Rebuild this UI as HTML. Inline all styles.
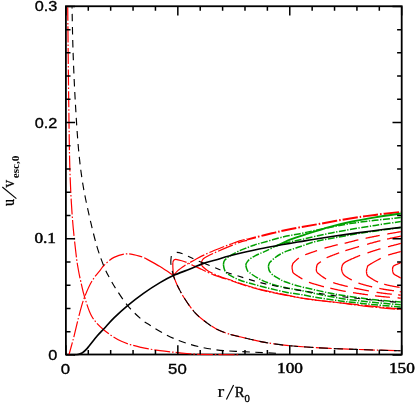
<!DOCTYPE html>
<html><head><meta charset="utf-8"><title>plot</title>
<style>
html,body{margin:0;padding:0;background:#fff;}
body{width:415px;height:407px;overflow:hidden;font-family:"Liberation Sans",sans-serif;}
svg{display:block;will-change:transform;}
</style></head><body>
<svg width="415" height="407" viewBox="0 0 415 407">
<rect x="0" y="0" width="415" height="407" fill="#fff"/>
<defs><clipPath id="c"><rect x="65.00" y="7.15" width="335.80" height="348.25"/></clipPath></defs>
<rect x="65.90" y="6.25" width="335.80" height="348.25" fill="none" stroke="#000" stroke-width="1.8"/>
<g clip-path="url(#c)" stroke-linecap="butt" stroke-linejoin="round">
<path d="M67.70 5.00 C67.87 20.83 68.33 72.50 68.70 100.00 C69.07 127.50 69.30 150.52 69.90 170.00 C70.50 189.48 71.28 202.95 72.30 216.90 C73.32 230.85 74.98 244.85 76.00 253.70 C77.02 262.55 77.58 265.28 78.40 270.00 C79.22 274.72 79.87 277.50 80.90 282.00 C81.93 286.50 82.75 291.22 84.60 297.00 C86.45 302.78 88.73 311.17 92.00 316.70 C95.27 322.23 99.30 326.10 104.20 330.20 C109.10 334.30 115.27 338.43 121.40 341.30 C127.53 344.17 134.57 345.85 141.00 347.40 C147.43 348.95 154.40 349.78 160.00 350.60 C165.60 351.42 170.12 351.82 174.60 352.30 C179.08 352.78 182.82 353.17 186.90 353.50 C190.98 353.83 190.25 354.05 199.10 354.30 C207.95 354.55 233.18 354.88 240.00 355.00" fill="none" stroke="#ff0000" stroke-width="1.2" stroke-dasharray="16 2 1.5 2" stroke-dashoffset="0"/>
<path d="M68.90 355.00 C69.27 353.67 70.25 350.12 71.10 347.00 C71.95 343.88 72.52 342.17 74.00 336.30 C75.48 330.43 78.23 318.35 80.00 311.80 C81.77 305.25 82.60 302.13 84.60 297.00 C86.60 291.87 89.35 285.53 92.00 281.00 C94.65 276.47 98.47 272.43 100.50 269.80 C102.53 267.17 101.95 267.27 104.20 265.20 C106.45 263.13 110.10 259.30 114.00 257.40 C117.90 255.50 122.90 253.88 127.60 253.80 C132.30 253.72 139.77 256.38 142.20 256.90" fill="none" stroke="#ff0000" stroke-width="1.2" stroke-dasharray="16 2 1.5 2" stroke-dashoffset="2.83"/>
<path d="M144.20 257.70 C146.83 259.18 155.13 263.63 160.00 266.60 C164.87 269.57 171.17 274.02 173.40 275.50" fill="none" stroke="#ff0000" stroke-width="1.2"/>
<path d="M173.40 275.50 C174.00 277.03 175.17 280.90 177.00 284.70 C178.83 288.50 181.53 293.78 184.40 298.30 C187.27 302.82 190.92 308.05 194.20 311.80 C197.48 315.55 200.42 317.93 204.10 320.80 C207.78 323.67 212.22 326.82 216.30 329.00 C220.38 331.18 224.50 332.57 228.60 333.90 C232.70 335.23 235.32 335.67 240.90 337.00 C246.48 338.33 254.88 340.53 262.10 341.90 C269.32 343.27 276.83 344.35 284.20 345.20 C291.57 346.05 298.67 346.47 306.30 347.00 C313.93 347.53 320.35 347.95 330.00 348.40 C339.65 348.85 352.37 349.30 364.20 349.70 C376.03 350.10 394.87 350.62 401.00 350.80" fill="none" stroke="#ff0000" stroke-width="1.2" stroke-dasharray="16 2 1.5 2" stroke-dashoffset="0"/>
<path d="M172.80 262.50 C172.97 262.12 173.30 260.73 173.80 260.20 C174.30 259.67 174.48 259.22 175.80 259.30 C177.12 259.38 179.57 260.05 181.70 260.70 C183.83 261.35 186.47 262.30 188.60 263.20 C190.73 264.10 192.37 265.08 194.50 266.10 C196.63 267.12 199.65 268.48 201.40 269.30 C203.15 270.12 202.97 270.07 205.00 271.00 C207.03 271.93 210.87 273.80 213.60 274.90 C216.33 276.00 218.67 276.72 221.40 277.60 C224.13 278.48 226.90 279.17 230.00 280.20 C233.10 281.23 235.15 282.25 240.00 283.80 C244.85 285.35 251.82 287.67 259.10 289.50 C266.38 291.33 275.83 293.22 283.70 294.80 C291.57 296.38 300.25 298.02 306.30 299.00 C312.35 299.98 314.03 300.00 320.00 300.70 C325.97 301.40 334.73 302.30 342.10 303.20 C349.47 304.10 356.83 305.25 364.20 306.10 C371.57 306.95 380.17 307.73 386.30 308.30 C392.43 308.87 398.55 309.30 401.00 309.50" fill="none" stroke="#ff0000" stroke-width="1.2" stroke-dasharray="16 2 1.5 2" stroke-dashoffset="0"/>
<path d="M172.80 262.50 C172.82 263.42 172.80 265.83 172.90 268.00 C173.00 270.17 173.32 274.25 173.40 275.50" fill="none" stroke="#ff0000" stroke-width="1.2"/>
<path d="M173.40 275.50 C174.13 274.68 175.92 272.25 177.80 270.60 C179.68 268.95 182.73 266.92 184.70 265.60 C186.67 264.28 187.73 263.77 189.60 262.70 C191.47 261.63 193.38 260.53 195.90 259.20 C198.42 257.87 201.58 256.18 204.70 254.70 C207.82 253.22 211.65 251.55 214.60 250.30 C217.55 249.05 219.83 248.18 222.40 247.20 C224.97 246.22 227.15 245.45 230.00 244.40 C232.85 243.35 236.67 241.82 239.50 240.90 C242.33 239.98 245.75 239.23 247.00 238.90" fill="none" stroke="#ff0000" stroke-width="1.2" stroke-dasharray="16 2 1.5 2" stroke-dashoffset="0"/>
<path d="M201.30 263.10 C201.47 262.62 201.73 261.10 202.30 260.20 C202.87 259.30 202.82 258.87 204.70 257.70 C206.58 256.53 210.27 254.75 213.60 253.20 C216.93 251.65 220.38 250.20 224.70 248.40 C229.02 246.60 235.78 243.75 239.50 242.40 C243.22 241.05 245.75 240.65 247.00 240.30" fill="none" stroke="#ff0000" stroke-width="1.2" stroke-dasharray="16 2 1.5 2" stroke-dashoffset="0"/>
<path d="M247.00 239.60 C248.20 239.28 251.20 238.47 254.20 237.70 C257.20 236.93 261.53 235.85 265.00 235.00 C268.47 234.15 271.67 233.38 275.00 232.60 C278.33 231.82 280.83 231.18 285.00 230.30 C289.17 229.42 294.17 228.38 300.00 227.30 C305.83 226.22 311.67 225.28 320.00 223.80 C328.33 222.32 340.83 219.88 350.00 218.40 C359.17 216.92 366.50 215.98 375.00 214.90 C383.50 213.82 396.67 212.40 401.00 211.90" fill="none" stroke="#ff0000" stroke-width="2.0" stroke-dasharray="15.2 2 1.5 2" stroke-dashoffset="5.8"/>
<path d="M201.30 263.10 C201.37 263.42 201.45 264.38 201.70 265.00 C201.95 265.62 201.80 265.85 202.80 266.80 C203.80 267.75 205.90 269.53 207.70 270.70 C209.50 271.87 211.32 272.75 213.60 273.80 C215.88 274.85 218.67 276.00 221.40 277.00 C224.13 278.00 226.90 278.73 230.00 279.80 C233.10 280.87 235.15 281.85 240.00 283.40 C244.85 284.95 251.82 287.27 259.10 289.10 C266.38 290.93 275.83 292.80 283.70 294.40 C291.57 296.00 296.57 297.27 306.30 298.70 C316.03 300.13 326.32 301.25 342.10 303.00 C357.88 304.75 391.18 308.17 401.00 309.20" fill="none" stroke="#ff0000" stroke-width="1.2" stroke-dasharray="16 2 1.5 2" stroke-dashoffset="0"/>
<path d="M292.00 267.20 L292.01 267.15 L292.02 267.09 L292.03 267.03 L292.05 266.96 L292.06 266.88 L292.07 266.80 L292.09 266.72 L292.10 266.63 L292.12 266.54 L292.13 266.44 L292.15 266.34 L292.17 266.24 L292.19 266.13 L292.21 266.03 L292.23 265.92 L292.25 265.81 L292.27 265.70 L292.29 265.59 L292.31 265.48 L292.33 265.37 L292.36 265.26 L292.38 265.16 L292.41 265.05 L292.43 264.95 L292.46 264.85 L292.49 264.75 L292.51 264.66 L292.54 264.57 L292.57 264.48 L292.60 264.40 L292.63 264.32 L292.65 264.25 L292.68 264.19 L292.70 264.12 L292.72 264.06 L292.74 264.01 L292.76 263.95 L292.77 263.90 L292.79 263.85 L292.81 263.80 L292.83 263.75 L292.84 263.70 L292.87 263.66 L292.89 263.61 L292.91 263.56 L292.94 263.51 L292.97 263.46 L293.00 263.41 L293.04 263.36 L293.08 263.30 L293.13 263.24 L293.18 263.18 L293.23 263.11 L293.29 263.04 L293.36 262.96 L293.44 262.88 L293.52 262.80 L293.60 262.70 L293.70 262.60 L293.80 262.50 L293.91 262.39 L294.03 262.27 L294.15 262.14 L294.29 262.01 L294.43 261.87 L294.57 261.73 L294.72 261.58 L294.88 261.43 L295.04 261.27 L295.21 261.11 L295.38 260.94 L295.56 260.78 L295.74 260.61 L295.92 260.44 L296.11 260.27 L296.29 260.10 L296.49 259.93 L296.68 259.75 L296.87 259.58 L297.07 259.41 L297.26 259.25 L297.46 259.08 L297.66 258.92 L297.85 258.76 L298.05 258.61 L298.24 258.45 L298.43 258.31 L298.62 258.17 L298.81 258.03 M305.22 254.77 L305.55 254.64 L305.91 254.51 L306.28 254.37 L306.67 254.22 L307.07 254.07 L307.49 253.92 L307.91 253.77 L308.35 253.61 L308.79 253.46 L309.24 253.30 L309.70 253.14 L310.17 252.97 L310.63 252.81 L311.10 252.65 L311.57 252.49 L312.04 252.33 L312.50 252.17 L312.96 252.01 L313.42 251.86 L313.87 251.70 L314.31 251.55 L314.74 251.41 L315.17 251.26 L315.58 251.12 L315.97 250.99 L316.36 250.86 L316.72 250.73 L317.07 250.61 M324.46 248.20 L324.84 248.09 L325.24 247.98 L325.66 247.86 L326.09 247.74 L326.55 247.62 L327.01 247.49 L327.50 247.36 L327.99 247.23 L328.49 247.09 L329.00 246.96 L329.52 246.82 L330.04 246.68 L330.56 246.54 L331.09 246.40 L331.61 246.26 L332.14 246.12 L332.66 245.99 L333.18 245.85 L333.69 245.72 L334.19 245.59 L334.69 245.46 L335.17 245.34 L335.64 245.22 L336.09 245.10 L336.53 244.99 L336.95 244.88 L337.36 244.78 L337.74 244.69 M344.66 243.28 L345.00 243.20 L345.35 243.12 L345.71 243.03 L346.08 242.94 L346.45 242.85 L346.84 242.75 L347.23 242.65 L347.63 242.55 L348.03 242.44 L348.45 242.33 L348.87 242.22 L349.30 242.11 L349.73 241.99 L350.18 241.88 L350.63 241.76 L351.09 241.64 L351.56 241.52 L352.04 241.39 L352.53 241.27 L353.02 241.14 L353.52 241.01 L354.03 240.88 L354.55 240.75 L355.08 240.62 L355.61 240.49 L356.16 240.36 L356.71 240.23 L357.27 240.10 L357.84 239.96 L358.41 239.83 M365.61 238.27 L366.34 238.12 L367.07 237.97 L367.80 237.82 L368.54 237.67 L369.29 237.51 L370.04 237.36 L370.79 237.21 L371.54 237.05 L372.30 236.90 L373.05 236.75 L373.81 236.60 L374.56 236.45 L375.31 236.30 L376.05 236.15 L376.79 236.00 L377.53 235.86 L378.26 235.72 L378.98 235.57 L379.70 235.44 M387.29 234.02 L388.09 233.88 L388.89 233.73 L389.69 233.59 L390.48 233.45 L391.26 233.31 L392.04 233.18 L392.80 233.04 L393.55 232.91 L394.28 232.78 L395.00 232.65 L395.69 232.53 L396.36 232.42 L397.00 232.30 L397.62 232.19 L398.21 232.09 L398.77 231.99 L399.29 231.90 L399.78 231.82 L400.23 231.74 L400.63 231.67 L401.00 231.60" fill="none" stroke="#ff0000" stroke-width="1.3"/>
<path d="M292.00 267.20 L292.01 267.25 L292.02 267.31 L292.03 267.38 L292.04 267.45 L292.05 267.53 L292.06 267.61 L292.07 267.69 L292.08 267.78 L292.09 267.88 L292.10 267.97 L292.11 268.08 L292.13 268.18 L292.14 268.29 L292.15 268.40 L292.17 268.51 L292.18 268.62 L292.20 268.73 L292.22 268.85 L292.24 268.96 L292.26 269.08 L292.28 269.20 L292.30 269.31 L292.32 269.43 L292.34 269.55 L292.36 269.66 L292.39 269.77 L292.42 269.88 L292.44 269.99 L292.47 270.10 L292.50 270.20 L292.53 270.30 L292.55 270.40 L292.56 270.49 L292.57 270.59 L292.58 270.68 L292.59 270.77 L292.59 270.86 L292.59 270.95 L292.59 271.03 L292.59 271.12 L292.59 271.21 L292.60 271.30 L292.60 271.39 L292.61 271.48 L292.63 271.57 L292.64 271.66 L292.67 271.76 L292.69 271.85 L292.73 271.95 L292.77 272.06 L292.83 272.16 L292.89 272.27 L292.96 272.38 L293.04 272.50 L293.13 272.62 L293.24 272.75 L293.36 272.88 L293.49 273.01 L293.64 273.15 L293.80 273.30 L293.98 273.45 L294.18 273.62 L294.40 273.79 L294.63 273.97 L294.88 274.15 L295.14 274.35 L295.42 274.55 L295.71 274.75 L296.01 274.96 L296.31 275.17 L296.63 275.38 L296.96 275.60 L297.29 275.82 L297.62 276.04 L297.96 276.26 L298.30 276.48 L298.65 276.70 L298.99 276.91 L299.33 277.13 L299.67 277.34 L300.01 277.55 L300.34 277.76 L300.67 277.96 L300.99 278.16 L301.30 278.35 L301.61 278.54 L301.90 278.71 L302.18 278.89 L302.45 279.05 M308.96 282.33 L309.34 282.46 L309.75 282.60 L310.18 282.74 L310.63 282.89 L311.10 283.04 L311.59 283.19 L312.10 283.35 L312.62 283.51 L313.14 283.67 L313.68 283.83 L314.23 284.00 L314.78 284.16 L315.34 284.33 L315.90 284.49 L316.46 284.66 L317.02 284.82 L317.57 284.98 L318.12 285.14 L318.67 285.30 L319.20 285.45 L319.72 285.60 L320.23 285.74 L320.73 285.88 L321.21 286.02 L321.67 286.15 L322.11 286.27 L322.53 286.39 L322.93 286.50 L323.30 286.60 L323.64 286.69 L323.96 286.78 M330.36 288.18 L330.73 288.26 L331.10 288.35 L331.47 288.43 L331.85 288.52 L332.23 288.61 L332.62 288.70 L333.01 288.80 L333.42 288.89 L333.83 288.99 L334.25 289.09 L334.68 289.20 L335.12 289.30 L335.58 289.41 L336.04 289.51 L336.52 289.62 L337.01 289.73 L337.52 289.84 L338.04 289.96 L338.58 290.07 L339.14 290.19 L339.71 290.31 L340.30 290.43 L340.91 290.55 L341.54 290.67 L342.18 290.80 L342.86 290.92 L343.55 291.05 L344.26 291.17 L345.00 291.30 L345.77 291.43 M353.02 292.62 L354.04 292.78 L355.07 292.94 L356.11 293.11 L357.17 293.27 L358.24 293.44 L359.31 293.60 L360.39 293.76 L361.48 293.93 L362.57 294.09 L363.66 294.25 L364.74 294.41 L365.82 294.56 L366.90 294.72 L367.96 294.87 M375.00 295.80 L375.94 295.91 L376.90 296.03 L377.88 296.14 L378.87 296.24 L379.87 296.35 L380.87 296.45 L381.88 296.55 L382.90 296.65 L383.91 296.75 L384.93 296.84 L385.93 296.94 L386.94 297.03 L387.93 297.11 L388.91 297.20 L389.88 297.28 M397.53 297.91 L398.22 297.96 L398.87 298.02 L399.47 298.07 L400.03 298.11 L400.54 298.16 L401.00 298.20" fill="none" stroke="#ff0000" stroke-width="1.3"/>
<path d="M316.40 268.20 L316.42 268.13 L316.43 268.06 L316.45 267.98 L316.46 267.89 L316.48 267.79 L316.49 267.69 L316.51 267.58 L316.52 267.46 L316.54 267.34 L316.56 267.21 L316.58 267.09 L316.60 266.95 L316.62 266.82 L316.64 266.68 L316.67 266.54 L316.70 266.40 L316.73 266.25 L316.76 266.11 L316.79 265.96 L316.83 265.82 L316.87 265.68 L316.91 265.53 L316.96 265.39 L317.01 265.25 L317.07 265.12 L317.12 264.99 L317.19 264.86 L317.25 264.73 L317.32 264.61 L317.40 264.50 L317.48 264.39 L317.57 264.28 L317.65 264.17 L317.75 264.07 L317.84 263.97 L317.94 263.86 L318.05 263.76 L318.15 263.67 L318.26 263.57 L318.38 263.47 L318.49 263.37 L318.61 263.28 L318.74 263.18 L318.86 263.09 L318.99 262.99 L319.12 262.90 L319.25 262.80 L319.38 262.71 L319.52 262.61 L319.66 262.52 L319.79 262.42 L319.94 262.32 L320.08 262.23 L320.22 262.13 L320.37 262.03 L320.51 261.92 L320.66 261.82 L320.80 261.72 L320.95 261.61 M326.62 257.75 L326.96 257.59 L327.33 257.43 L327.72 257.26 L328.13 257.09 L328.55 256.91 L328.99 256.73 L329.45 256.54 L329.91 256.35 L330.39 256.16 L330.88 255.97 L331.37 255.78 L331.87 255.58 L332.38 255.39 L332.88 255.19 L333.39 255.00 L333.89 254.81 L334.39 254.62 L334.89 254.43 L335.37 254.25 L335.85 254.07 L336.32 253.89 L336.78 253.72 L337.22 253.55 L337.65 253.39 L338.06 253.24 L338.46 253.09 L338.83 252.95 L339.18 252.82 M345.34 250.69 L345.70 250.58 L346.07 250.47 L346.45 250.35 L346.84 250.23 L347.24 250.10 L347.66 249.98 L348.09 249.85 L348.52 249.71 L348.97 249.57 L349.43 249.43 L349.90 249.29 L350.37 249.15 L350.86 249.00 L351.36 248.85 L351.86 248.70 L352.37 248.54 L352.90 248.39 L353.43 248.23 L353.96 248.07 L354.51 247.91 L355.06 247.75 L355.62 247.58 L356.18 247.42 L356.76 247.25 L357.33 247.08 L357.92 246.91 L358.51 246.74 L359.10 246.57 M367.12 244.28 L367.85 244.08 L368.59 243.87 L369.33 243.66 L370.07 243.45 L370.82 243.24 L371.57 243.03 L372.33 242.82 L373.08 242.62 L373.83 242.41 L374.58 242.21 L375.33 242.00 L376.07 241.81 L376.81 241.61 L377.54 241.41 L378.27 241.22 L378.99 241.04 L379.70 240.85 L380.41 240.67 M387.03 239.10 L387.81 238.93 L388.58 238.76 L389.35 238.59 L390.12 238.42 L390.89 238.25 L391.64 238.09 L392.39 237.93 L393.12 237.77 L393.84 237.62 L394.54 237.47 L395.23 237.33 L395.90 237.19 L396.54 237.05 L397.16 236.92 L397.75 236.79 L398.32 236.67 L398.85 236.56 L399.35 236.45 L399.82 236.36 L400.25 236.26 L400.65 236.18 L401.00 236.10" fill="none" stroke="#ff0000" stroke-width="1.3"/>
<path d="M316.40 268.20 L316.41 268.28 L316.42 268.36 L316.42 268.45 L316.42 268.55 L316.42 268.65 L316.41 268.76 L316.40 268.88 L316.39 269.00 L316.38 269.13 L316.37 269.26 L316.36 269.40 L316.35 269.54 L316.34 269.68 L316.34 269.83 L316.34 269.99 L316.35 270.15 L316.36 270.31 L316.38 270.47 L316.41 270.64 L316.44 270.81 L316.49 270.98 L316.54 271.15 L316.60 271.33 L316.68 271.51 L316.76 271.69 L316.86 271.87 L316.98 272.05 L317.10 272.23 L317.24 272.42 L317.40 272.60 L317.57 272.79 L317.77 272.98 L317.98 273.19 L318.21 273.40 L318.45 273.61 L318.71 273.83 L318.98 274.06 L319.27 274.29 L319.56 274.52 L319.87 274.76 L320.18 275.00 L320.50 275.24 L320.83 275.48 L321.16 275.73 L321.50 275.97 L321.84 276.21 L322.18 276.45 L322.53 276.69 L322.87 276.93 L323.21 277.16 L323.55 277.39 L323.89 277.62 L324.22 277.84 L324.54 278.06 L324.86 278.27 L325.17 278.47 L325.47 278.66 L325.76 278.85 L326.03 279.03 M333.22 282.61 L333.54 282.72 L333.87 282.84 L334.22 282.95 L334.56 283.06 L334.92 283.18 L335.29 283.29 L335.66 283.40 L336.03 283.52 L336.42 283.63 L336.81 283.74 L337.20 283.86 L337.61 283.97 L338.01 284.09 L338.42 284.20 L338.84 284.31 L339.26 284.43 L339.69 284.54 L340.12 284.66 L340.55 284.77 L340.98 284.88 L341.42 285.00 L341.86 285.11 L342.31 285.22 L342.75 285.34 L343.20 285.45 L343.65 285.56 L344.10 285.68 L344.55 285.79 L345.00 285.90 L345.45 286.01 L345.91 286.12 L346.36 286.23 L346.82 286.34 L347.27 286.45 L347.73 286.56 M354.01 287.97 L354.52 288.08 L355.04 288.19 L355.57 288.30 L356.10 288.41 L356.63 288.52 L357.18 288.63 L357.73 288.75 L358.28 288.86 L358.85 288.97 L359.42 289.09 L360.00 289.20 L360.59 289.32 L361.19 289.43 L361.79 289.55 L362.41 289.67 L363.03 289.80 L363.66 289.92 L364.30 290.04 L364.95 290.17 L365.60 290.30 L366.26 290.42 L366.92 290.55 L367.59 290.68 L368.27 290.80 L368.94 290.93 M376.55 292.27 L377.24 292.38 L377.94 292.49 L378.63 292.59 L379.32 292.70 L380.00 292.80 L380.70 292.90 L381.41 293.00 L382.15 293.10 L382.91 293.20 L383.69 293.30 L384.47 293.40 L385.27 293.49 L386.08 293.59 L386.89 293.68 L387.70 293.78 L388.52 293.87 L389.34 293.96 L390.15 294.05 L390.95 294.14 L391.75 294.23 M398.13 294.89 L398.70 294.95 L399.24 295.01 L399.75 295.06 L400.21 295.11 L400.63 295.16 L401.00 295.20" fill="none" stroke="#ff0000" stroke-width="1.3"/>
<path d="M341.50 268.90 L341.52 268.82 L341.54 268.73 L341.56 268.63 L341.58 268.53 L341.61 268.41 L341.63 268.29 L341.65 268.15 L341.67 268.02 L341.70 267.87 L341.72 267.72 L341.75 267.57 L341.78 267.41 L341.81 267.25 L341.84 267.08 L341.88 266.91 L341.91 266.74 L341.95 266.57 L341.99 266.40 L342.04 266.23 L342.09 266.06 L342.14 265.89 L342.20 265.72 L342.26 265.55 L342.32 265.39 L342.39 265.23 L342.46 265.07 L342.54 264.92 L342.62 264.77 L342.71 264.63 L342.80 264.50 L342.89 264.37 L342.98 264.25 L343.07 264.13 L343.16 264.02 L343.25 263.90 L343.34 263.80 L343.43 263.69 L343.52 263.59 L343.61 263.49 L343.71 263.39 L343.81 263.29 L343.91 263.19 L344.02 263.09 L344.13 262.99 L344.25 262.89 L344.38 262.79 L344.51 262.69 L344.65 262.59 L344.80 262.49 L344.96 262.38 L345.13 262.27 L345.31 262.16 L345.50 262.04 L345.70 261.92 L345.92 261.80 L346.14 261.67 L346.39 261.54 L346.64 261.40 L346.91 261.25 L347.20 261.10 L347.51 260.94 L347.84 260.77 L348.20 260.59 L348.58 260.41 L348.98 260.22 L349.40 260.02 L349.83 259.82 L350.28 259.61 L350.75 259.40 L351.22 259.18 L351.71 258.96 L352.20 258.74 L352.70 258.52 L353.21 258.30 L353.71 258.07 L354.22 257.85 L354.73 257.63 L355.24 257.41 L355.74 257.20 L356.23 256.99 L356.72 256.78 L357.20 256.57 L357.67 256.38 L358.13 256.18 L358.57 256.00 L358.99 255.82 L359.40 255.65 L359.79 255.49 L360.16 255.34 M367.45 252.89 L367.81 252.77 L368.17 252.65 L368.55 252.53 L368.94 252.40 L369.33 252.27 L369.74 252.14 L370.15 252.01 L370.57 251.87 L371.00 251.73 L371.44 251.58 L371.88 251.44 L372.34 251.29 L372.80 251.14 L373.27 250.99 L373.75 250.83 L374.23 250.68 L374.72 250.52 L375.22 250.37 L375.72 250.21 L376.23 250.05 L376.75 249.89 L377.27 249.73 L377.80 249.57 L378.34 249.41 L378.88 249.24 L379.43 249.08 L379.98 248.92 L380.54 248.76 M388.03 246.73 L388.81 246.53 L389.59 246.33 L390.37 246.13 L391.15 245.92 L391.92 245.73 L392.69 245.53 L393.45 245.33 L394.19 245.14 L394.92 244.96 L395.62 244.78 L396.31 244.60 L396.97 244.43 L397.60 244.27 L398.20 244.12 L398.77 243.98 L399.30 243.84 L399.79 243.71 L400.24 243.60 L400.64 243.49 L401.00 243.40" fill="none" stroke="#ff0000" stroke-width="1.3"/>
<path d="M341.50 268.90 L341.52 268.97 L341.54 269.05 L341.56 269.14 L341.58 269.23 L341.60 269.33 L341.63 269.44 L341.65 269.56 L341.68 269.68 L341.71 269.81 L341.74 269.94 L341.77 270.08 L341.80 270.22 L341.83 270.36 L341.86 270.51 L341.90 270.66 L341.94 270.81 L341.97 270.96 L342.01 271.11 L342.05 271.26 L342.10 271.41 L342.14 271.57 L342.18 271.72 L342.23 271.86 L342.28 272.01 L342.33 272.15 L342.38 272.29 L342.43 272.42 L342.49 272.56 L342.54 272.68 L342.60 272.80 L342.66 272.92 L342.71 273.03 L342.76 273.14 L342.82 273.24 L342.87 273.35 L342.92 273.45 L342.97 273.55 L343.02 273.65 L343.07 273.75 L343.12 273.84 L343.17 273.94 L343.23 274.04 L343.28 274.13 L343.34 274.22 L343.41 274.32 L343.47 274.41 L343.54 274.51 L343.62 274.60 L343.70 274.70 L343.78 274.80 L343.87 274.90 L343.97 275.00 L344.07 275.10 L344.18 275.21 L344.30 275.32 L344.42 275.43 L344.55 275.54 L344.69 275.66 L344.84 275.78 L345.00 275.90 L345.17 276.03 L345.34 276.16 L345.53 276.29 L345.72 276.43 L345.92 276.56 L346.12 276.70 L346.34 276.85 L346.56 276.99 L346.78 277.14 L347.01 277.29 L347.25 277.44 L347.49 277.59 L347.74 277.74 L347.99 277.90 L348.25 278.05 L348.51 278.20 L348.77 278.36 L349.04 278.51 L349.31 278.67 L349.59 278.82 L349.86 278.98 L350.14 279.13 L350.42 279.28 L350.70 279.43 L350.98 279.58 L351.26 279.73 L351.55 279.87 L351.83 280.02 M358.43 283.01 L358.78 283.14 L359.14 283.27 L359.51 283.40 L359.89 283.53 L360.28 283.66 L360.69 283.79 L361.11 283.93 L361.55 284.06 L362.00 284.20 L362.47 284.34 L362.95 284.48 L363.45 284.63 L363.96 284.77 L364.48 284.92 L365.01 285.07 L365.56 285.22 L366.12 285.37 L366.69 285.52 L367.27 285.67 L367.85 285.83 L368.45 285.98 L369.06 286.14 L369.67 286.29 L370.29 286.44 L370.91 286.60 L371.54 286.75 L372.18 286.90 M379.35 288.47 L380.00 288.60 L380.66 288.73 L381.36 288.85 L382.07 288.98 L382.81 289.11 L383.57 289.24 L384.34 289.37 L385.13 289.50 L385.93 289.62 L386.74 289.75 L387.56 289.87 L388.37 290.00 L389.19 290.12 L390.01 290.24 L390.82 290.36 L391.62 290.48 L392.42 290.59 L393.20 290.70 L393.97 290.81 M399.74 291.62 L400.20 291.68 L400.63 291.74 L401.00 291.80" fill="none" stroke="#ff0000" stroke-width="1.3"/>
<path d="M366.40 271.40 L366.41 271.33 L366.43 271.25 L366.44 271.16 L366.46 271.07 L366.47 270.96 L366.49 270.85 L366.50 270.73 L366.52 270.61 L366.54 270.48 L366.56 270.34 L366.58 270.21 L366.60 270.06 L366.62 269.92 L366.64 269.77 L366.67 269.62 L366.69 269.47 L366.72 269.31 L366.75 269.16 L366.78 269.01 L366.81 268.86 L366.84 268.70 L366.87 268.56 L366.91 268.41 L366.94 268.27 L366.98 268.13 L367.02 267.99 L367.06 267.86 L367.11 267.73 L367.15 267.61 L367.20 267.50 L367.24 267.39 L367.28 267.29 L367.31 267.20 L367.34 267.11 L367.36 267.03 L367.38 266.95 L367.40 266.87 L367.41 266.80 L367.43 266.72 L367.44 266.66 L367.46 266.59 L367.48 266.52 L367.50 266.45 L367.53 266.39 L367.56 266.32 L367.60 266.25 L367.65 266.18 L367.70 266.10 L367.76 266.03 L367.83 265.94 L367.92 265.86 L368.01 265.77 L368.12 265.67 L368.24 265.57 L368.37 265.46 L368.52 265.35 L368.69 265.22 L368.88 265.09 L369.08 264.95 L369.30 264.80 L369.55 264.64 L369.82 264.47 L370.11 264.28 L370.43 264.09 L370.76 263.88 L371.12 263.67 L371.49 263.45 L371.88 263.23 L372.29 262.99 L372.70 262.76 L373.13 262.51 L373.57 262.27 L374.01 262.02 L374.46 261.77 L374.91 261.52 L375.37 261.27 L375.83 261.02 L376.28 260.77 L376.74 260.52 L377.19 260.28 L377.63 260.04 L378.07 259.80 L378.49 259.57 L378.91 259.35 L379.32 259.14 L379.71 258.93 L380.08 258.73 L380.44 258.54 L380.78 258.37 M388.15 255.09 L388.52 254.97 L388.92 254.84 L389.34 254.71 L389.78 254.58 L390.24 254.45 L390.71 254.31 L391.20 254.17 L391.70 254.02 L392.21 253.88 L392.72 253.74 L393.25 253.59 L393.77 253.45 L394.30 253.30 L394.82 253.16 L395.34 253.02 L395.85 252.88 L396.36 252.75 L396.85 252.61 L397.34 252.49 L397.81 252.36 L398.26 252.24 L398.69 252.12 L399.10 252.01 L399.49 251.91 L399.85 251.81 L400.19 251.72 L400.49 251.64 L400.76 251.57 L401.00 251.50" fill="none" stroke="#ff0000" stroke-width="1.3"/>
<path d="M366.40 271.40 L366.41 271.46 L366.42 271.52 L366.43 271.59 L366.44 271.67 L366.45 271.75 L366.47 271.84 L366.48 271.93 L366.49 272.03 L366.50 272.13 L366.52 272.24 L366.53 272.35 L366.55 272.46 L366.57 272.58 L366.58 272.70 L366.60 272.82 L366.62 272.94 L366.64 273.06 L366.66 273.18 L366.68 273.30 L366.70 273.43 L366.73 273.55 L366.75 273.66 L366.78 273.78 L366.81 273.89 L366.84 274.01 L366.87 274.11 L366.90 274.22 L366.93 274.32 L366.96 274.41 L367.00 274.50 L367.03 274.58 L367.06 274.66 L367.09 274.74 L367.11 274.81 L367.13 274.87 L367.14 274.93 L367.15 274.99 L367.17 275.05 L367.18 275.11 L367.19 275.16 L367.21 275.21 L367.22 275.26 L367.24 275.31 L367.26 275.37 L367.29 275.42 L367.32 275.47 L367.35 275.53 L367.39 275.58 L367.44 275.64 L367.50 275.71 L367.56 275.77 L367.63 275.84 L367.71 275.92 L367.80 276.00 L367.91 276.08 L368.02 276.17 L368.14 276.27 L368.28 276.37 L368.43 276.48 L368.60 276.60 L368.78 276.73 L368.97 276.86 L369.18 277.00 L369.40 277.15 L369.63 277.31 L369.87 277.47 L370.12 277.64 L370.38 277.81 L370.65 277.99 L370.93 278.17 L371.22 278.36 L371.52 278.54 L371.82 278.73 L372.12 278.93 L372.44 279.12 L372.76 279.31 L373.08 279.51 L373.40 279.70 L373.73 279.89 L374.07 280.09 L374.40 280.27 L374.74 280.46 L375.07 280.65 L375.41 280.83 L375.75 281.00 L376.08 281.17 L376.41 281.34 L376.75 281.50 L377.07 281.65 L377.40 281.80 L377.72 281.94 L378.05 282.08 M384.22 284.21 L384.59 284.31 L384.95 284.41 L385.32 284.51 L385.70 284.61 L386.07 284.71 L386.45 284.81 L386.83 284.91 L387.22 285.01 L387.61 285.10 L388.00 285.20 L388.40 285.30 L388.82 285.39 L389.26 285.49 L389.71 285.59 L390.18 285.69 L390.65 285.78 L391.14 285.88 L391.63 285.97 L392.13 286.07 L392.64 286.16 L393.14 286.26 L393.65 286.35 L394.16 286.44 L394.66 286.53 L395.16 286.61 L395.66 286.70 L396.14 286.78 L396.62 286.86 L397.09 286.94 L397.54 287.01 L397.98 287.09 L398.40 287.16 L398.81 287.23 L399.19 287.29 L399.56 287.35" fill="none" stroke="#ff0000" stroke-width="1.3"/>
<path d="M392.50 269.20 L392.51 269.16 L392.52 269.12 L392.53 269.07 L392.53 269.01 L392.54 268.95 L392.55 268.89 L392.56 268.82 L392.57 268.75 L392.58 268.68 L392.60 268.60 L392.61 268.53 L392.62 268.44 L392.63 268.36 L392.65 268.28 L392.66 268.19 L392.68 268.11 L392.69 268.02 L392.71 267.94 L392.73 267.85 L392.75 267.76 L392.77 267.68 L392.79 267.59 L392.81 267.51 L392.83 267.43 L392.86 267.35 L392.88 267.28 L392.91 267.20 L392.94 267.13 L392.97 267.06 L393.00 267.00 L393.03 266.94 L393.06 266.88 L393.08 266.83 L393.10 266.78 L393.12 266.73 L393.14 266.68 L393.16 266.63 L393.17 266.59 L393.19 266.54 L393.21 266.50 L393.23 266.46 L393.25 266.42 L393.27 266.38 L393.29 266.33 L393.32 266.29 L393.35 266.25 L393.38 266.21 L393.42 266.17 L393.47 266.12 L393.51 266.08 L393.57 266.03 L393.63 265.98 L393.70 265.93 L393.77 265.88 L393.86 265.82 L393.95 265.76 L394.05 265.70 L394.15 265.64 L394.27 265.57 L394.40 265.50 L394.54 265.42 L394.70 265.34 L394.88 265.25 L395.07 265.16 L395.28 265.06 L395.49 264.96 L395.72 264.86 L395.96 264.75 L396.21 264.64 L396.46 264.53 L396.72 264.42 L396.98 264.30 L397.25 264.19 L397.52 264.07 L397.79 263.96 L398.06 263.84 L398.32 263.73 L398.59 263.62 L398.84 263.51 L399.10 263.40 L399.34 263.30 L399.58 263.20 L399.80 263.11 L400.02 263.02 L400.22 262.93 L400.41 262.85 L400.58 262.78 L400.74 262.71 L400.88 262.65 L401.00 262.60" fill="none" stroke="#ff0000" stroke-width="1.3"/>
<path d="M392.50 269.20 L392.51 269.26 L392.52 269.32 L392.53 269.39 L392.53 269.47 L392.54 269.55 L392.55 269.64 L392.56 269.73 L392.57 269.83 L392.58 269.93 L392.60 270.04 L392.61 270.15 L392.62 270.26 L392.63 270.38 L392.65 270.50 L392.66 270.62 L392.68 270.74 L392.69 270.86 L392.71 270.98 L392.73 271.10 L392.75 271.23 L392.77 271.35 L392.79 271.46 L392.81 271.58 L392.83 271.69 L392.86 271.81 L392.88 271.91 L392.91 272.02 L392.94 272.12 L392.97 272.21 L393.00 272.30 L393.03 272.38 L393.06 272.47 L393.08 272.54 L393.10 272.62 L393.12 272.69 L393.14 272.76 L393.16 272.83 L393.17 272.89 L393.19 272.95 L393.21 273.01 L393.23 273.08 L393.25 273.14 L393.27 273.19 L393.29 273.25 L393.32 273.31 L393.35 273.37 L393.38 273.43 L393.42 273.49 L393.47 273.55 L393.51 273.62 L393.57 273.68 L393.63 273.75 L393.70 273.82 L393.77 273.89 L393.86 273.97 L393.95 274.05 L394.05 274.13 L394.15 274.22 L394.27 274.31 L394.40 274.40 L394.54 274.50 L394.70 274.61 L394.88 274.72 L395.07 274.84 L395.28 274.97 L395.49 275.10 L395.72 275.23 L395.96 275.37 L396.21 275.51 L396.46 275.65 L396.72 275.80 L396.98 275.94 L397.25 276.09 L397.52 276.24 L397.79 276.38 L398.06 276.53 L398.32 276.67 L398.59 276.81 L398.84 276.95 L399.10 277.08 L399.34 277.21 L399.58 277.34 L399.80 277.46 L400.02 277.57 L400.22 277.68 L400.41 277.78 L400.58 277.87 L400.74 277.96 L400.88 278.03 L401.00 278.10" fill="none" stroke="#ff0000" stroke-width="1.3"/>
<path d="M276.00 245.90 C276.67 245.63 278.67 244.88 280.00 244.30 C281.33 243.72 282.33 243.17 284.00 242.40 C285.67 241.63 286.50 241.00 290.00 239.70 C293.50 238.40 298.33 236.75 305.00 234.60 C311.67 232.45 322.50 228.90 330.00 226.80 C337.50 224.70 342.50 223.57 350.00 222.00 C357.50 220.43 366.50 218.82 375.00 217.40 C383.50 215.98 396.67 214.15 401.00 213.50" fill="none" stroke="#00a000" stroke-width="1.9"/>
<path d="M223.40 264.60 C223.55 263.97 223.53 262.03 224.30 260.80 C225.07 259.57 226.65 258.27 228.00 257.20 C229.35 256.13 230.45 255.48 232.40 254.40 C234.35 253.32 237.25 251.82 239.70 250.70 C242.15 249.58 244.77 248.62 247.10 247.70 C249.43 246.78 251.70 245.88 253.70 245.20 C255.70 244.52 254.10 245.00 259.10 243.60 C264.10 242.20 276.88 238.45 283.70 236.80 C290.52 235.15 293.12 235.12 300.00 233.70 C306.88 232.28 316.67 229.98 325.00 228.30 C333.33 226.62 341.67 224.93 350.00 223.60 C358.33 222.27 366.50 221.30 375.00 220.30 C383.50 219.30 396.67 218.05 401.00 217.60" fill="none" stroke="#00a000" stroke-width="1.5" stroke-dasharray="7 1.5 1.3 1.5" stroke-dashoffset="0"/>
<path d="M223.40 264.60 C223.55 265.33 223.67 267.52 224.30 269.00 C224.93 270.48 224.67 271.67 227.20 273.50 C229.73 275.33 234.18 277.95 239.50 280.00 C244.82 282.05 251.52 283.80 259.10 285.80 C266.68 287.80 278.18 290.57 285.00 292.00 C291.82 293.43 294.17 293.40 300.00 294.40 C305.83 295.40 313.33 296.92 320.00 298.00 C326.67 299.08 334.17 300.13 340.00 300.90 C345.83 301.67 349.17 301.95 355.00 302.60 C360.83 303.25 367.33 304.07 375.00 304.80 C382.67 305.53 396.67 306.63 401.00 307.00" fill="none" stroke="#00a000" stroke-width="1.5" stroke-dasharray="7 1.5 1.3 1.5" stroke-dashoffset="0"/>
<path d="M245.80 265.50 C245.87 265.18 245.98 264.17 246.20 263.60 C246.42 263.03 246.58 262.78 247.10 262.10 C247.62 261.42 247.98 260.55 249.30 259.50 C250.62 258.45 252.38 257.15 255.00 255.80 C257.62 254.45 261.20 253.13 265.00 251.40 C268.80 249.67 273.63 246.97 277.80 245.40 C281.97 243.83 285.47 243.12 290.00 242.00 C294.53 240.88 299.17 240.00 305.00 238.70 C310.83 237.40 318.33 235.58 325.00 234.20 C331.67 232.82 336.67 231.87 345.00 230.40 C353.33 228.93 365.67 226.87 375.00 225.40 C384.33 223.93 396.67 222.23 401.00 221.60" fill="none" stroke="#00a000" stroke-width="1.5" stroke-dasharray="7 1.5 1.3 1.5" stroke-dashoffset="0"/>
<path d="M245.80 265.50 C246.00 266.17 246.42 268.33 247.00 269.50 C247.58 270.67 247.28 270.95 249.30 272.50 C251.32 274.05 255.65 276.97 259.10 278.80 C262.55 280.63 265.68 282.03 270.00 283.50 C274.32 284.97 280.00 286.48 285.00 287.60 C290.00 288.72 294.17 289.03 300.00 290.20 C305.83 291.37 313.33 293.25 320.00 294.60 C326.67 295.95 334.17 297.35 340.00 298.30 C345.83 299.25 349.17 299.58 355.00 300.30 C360.83 301.02 367.33 301.85 375.00 302.60 C382.67 303.35 396.67 304.43 401.00 304.80" fill="none" stroke="#00a000" stroke-width="1.5" stroke-dasharray="7 1.5 1.3 1.5" stroke-dashoffset="0"/>
<path d="M268.40 266.50 C268.48 266.12 268.60 264.93 268.90 264.20 C269.20 263.47 269.23 263.15 270.20 262.10 C271.17 261.05 272.97 259.25 274.70 257.90 C276.43 256.55 278.48 255.17 280.60 254.00 C282.72 252.83 285.00 251.85 287.40 250.90 C289.80 249.95 292.95 248.98 295.00 248.30 C297.05 247.62 296.45 247.88 299.70 246.80 C302.95 245.72 309.58 243.15 314.50 241.80 C319.42 240.45 324.12 239.68 329.20 238.70 C334.28 237.72 339.53 236.85 345.00 235.90 C350.47 234.95 356.17 233.93 362.00 233.00 C367.83 232.07 373.50 231.20 380.00 230.30 C386.50 229.40 397.50 228.05 401.00 227.60" fill="none" stroke="#00a000" stroke-width="1.5" stroke-dasharray="7 1.5 1.3 1.5" stroke-dashoffset="0"/>
<path d="M268.40 266.50 C268.47 266.92 268.58 268.18 268.80 269.00 C269.02 269.82 269.05 270.42 269.70 271.40 C270.35 272.38 271.38 273.82 272.70 274.90 C274.02 275.98 275.55 276.75 277.60 277.90 C279.65 279.05 281.32 280.38 285.00 281.80 C288.68 283.22 294.78 285.07 299.70 286.40 C304.62 287.73 309.58 288.70 314.50 289.80 C319.42 290.90 324.95 292.13 329.20 293.00 C333.45 293.87 335.70 294.30 340.00 295.00 C344.30 295.70 349.17 296.40 355.00 297.20 C360.83 298.00 367.33 299.00 375.00 299.80 C382.67 300.60 396.67 301.63 401.00 302.00" fill="none" stroke="#00a000" stroke-width="1.5" stroke-dasharray="7 1.5 1.3 1.5" stroke-dashoffset="0"/>
<path d="M72.00 5.00 C72.17 12.50 72.47 34.17 73.00 50.00 C73.53 65.83 74.27 83.33 75.20 100.00 C76.13 116.67 77.30 135.83 78.60 150.00 C79.90 164.17 81.18 173.85 83.00 185.00 C84.82 196.15 87.18 206.68 89.50 216.90 C91.82 227.12 94.45 237.95 96.90 246.30 C99.35 254.65 101.95 261.47 104.20 267.00 C106.45 272.53 108.35 275.72 110.40 279.50 C112.45 283.28 113.63 285.35 116.50 289.70 C119.37 294.05 123.52 300.72 127.60 305.60 C131.68 310.48 137.27 315.72 141.00 319.00 C144.73 322.28 146.45 323.02 150.00 325.30 C153.55 327.58 158.20 330.45 162.30 332.70 C166.40 334.95 170.50 337.02 174.60 338.80 C178.70 340.58 182.82 342.08 186.90 343.40 C190.98 344.72 195.02 345.75 199.10 346.70 C203.18 347.65 207.30 348.45 211.40 349.10 C215.50 349.75 219.60 350.22 223.70 350.60 C227.80 350.98 231.62 351.17 236.00 351.40 C240.38 351.63 242.67 351.67 250.00 352.00 C257.33 352.33 275.00 353.17 280.00 353.40" fill="none" stroke="#000" stroke-width="1.15" stroke-dasharray="7.5 5.5" stroke-dashoffset="4"/>
<path d="M171.30 256.00 C171.23 257.28 170.55 260.45 170.90 263.70 C171.25 266.95 172.38 272.00 173.40 275.50 C174.42 279.00 175.17 280.90 177.00 284.70 C178.83 288.50 181.53 293.78 184.40 298.30 C187.27 302.82 190.92 308.05 194.20 311.80 C197.48 315.55 200.42 317.93 204.10 320.80 C207.78 323.67 212.22 326.82 216.30 329.00 C220.38 331.18 224.50 332.57 228.60 333.90 C232.70 335.23 235.32 335.67 240.90 337.00 C246.48 338.33 254.88 340.53 262.10 341.90 C269.32 343.27 276.83 344.35 284.20 345.20 C291.57 346.05 298.67 346.47 306.30 347.00 C313.93 347.53 320.35 347.95 330.00 348.40 C339.65 348.85 352.37 349.30 364.20 349.70 C376.03 350.10 394.87 350.62 401.00 350.80" fill="none" stroke="#000" stroke-width="1.1" stroke-dasharray="9 6" stroke-dashoffset="0"/>
<path d="M171.30 256.00 C171.50 255.60 171.58 254.20 172.50 253.60 C173.42 253.00 175.10 252.37 176.80 252.40 C178.50 252.43 180.82 253.15 182.70 253.80 C184.58 254.45 186.30 255.47 188.10 256.30 C189.90 257.13 191.70 257.98 193.50 258.80 C195.30 259.62 196.20 260.07 198.90 261.20 C201.60 262.33 206.10 264.13 209.70 265.60 C213.30 267.07 217.12 268.70 220.50 270.00 C223.88 271.30 223.57 271.35 230.00 273.40 C236.43 275.45 249.93 279.88 259.10 282.30 C268.27 284.72 276.52 286.28 285.00 287.90 C293.48 289.52 303.33 290.93 310.00 292.00 C316.67 293.07 319.17 293.47 325.00 294.30 C330.83 295.13 336.67 296.00 345.00 297.00 C353.33 298.00 365.67 299.37 375.00 300.30 C384.33 301.23 396.67 302.22 401.00 302.60" fill="none" stroke="#000" stroke-width="1.1" stroke-dasharray="0.00 7.18 6.00 5.90 6.00 5.90 11.70 5.90 5.80 6.20 6.00 5.90 6.00 5.90 6.00 5.90 6.00 5.90 6.00 5.90 6.00 5.90 6.00 5.90 6.00 5.90 6.00 5.90 6.00 5.90 6.00 5.90 6.00 5.90 6.00 5.90 6.00 5.90 6.00 5.90 6.00 5.90 6.00 5.90 6.00 5.90 6.00 5.90 6.00 5.90 6.00 5.90 6.00 5.90 6.00 5.90 6.00 5.90 6.00 5.90 6.00 5.90 6.00 5.90 6.00 5.90 6.00 5.90 6.00 5.90 6.00 5.90 6.00 5.90 6.00 5.90 6.00 5.90 6.00 5.90 6.00 5.90 6.00 5.90 6.00 5.90 6.00 5.90 6.00 5.90" stroke-dashoffset="0"/>
<path d="M73.50 355.00 C74.25 354.93 76.58 354.93 78.00 354.60 C79.42 354.27 80.50 354.00 82.00 353.00 C83.50 352.00 84.52 351.38 87.00 348.60 C89.48 345.82 94.03 339.65 96.90 336.30 C99.77 332.95 101.35 331.57 104.20 328.50 C107.05 325.43 110.10 321.72 114.00 317.90 C117.90 314.08 122.68 309.70 127.60 305.60 C132.52 301.50 138.10 297.13 143.50 293.30 C148.90 289.47 155.03 285.57 160.00 282.60 C164.97 279.63 168.30 277.77 173.30 275.50 C178.30 273.23 185.08 270.98 190.00 269.00 C194.92 267.02 198.53 265.10 202.80 263.60 C207.07 262.10 211.07 261.30 215.60 260.00 C220.13 258.70 222.75 257.63 230.00 255.80 C237.25 253.97 249.93 250.93 259.10 249.00 C268.27 247.07 278.18 245.42 285.00 244.20 C291.82 242.98 295.08 242.53 300.00 241.70 C304.92 240.87 307.00 240.38 314.50 239.20 C322.00 238.02 335.75 235.93 345.00 234.60 C354.25 233.27 360.67 232.42 370.00 231.20 C379.33 229.98 395.83 227.95 401.00 227.30" fill="none" stroke="#000" stroke-width="1.65"/>
</g>
<path d="M65.90 354.50 v-9.20 M65.90 6.25 v9.20 M88.29 354.50 v-4.60 M88.29 6.25 v4.60 M110.67 354.50 v-4.60 M110.67 6.25 v4.60 M133.06 354.50 v-4.60 M133.06 6.25 v4.60 M155.45 354.50 v-4.60 M155.45 6.25 v4.60 M177.83 354.50 v-9.20 M177.83 6.25 v9.20 M200.22 354.50 v-4.60 M200.22 6.25 v4.60 M222.61 354.50 v-4.60 M222.61 6.25 v4.60 M244.99 354.50 v-4.60 M244.99 6.25 v4.60 M267.38 354.50 v-4.60 M267.38 6.25 v4.60 M289.77 354.50 v-9.20 M289.77 6.25 v9.20 M312.15 354.50 v-4.60 M312.15 6.25 v4.60 M334.54 354.50 v-4.60 M334.54 6.25 v4.60 M356.93 354.50 v-4.60 M356.93 6.25 v4.60 M379.31 354.50 v-4.60 M379.31 6.25 v4.60 M401.70 354.50 v-9.20 M401.70 6.25 v9.20 M65.90 354.90 h9.20 M401.70 354.90 h-9.20 M65.90 331.67 h4.60 M401.70 331.67 h-4.60 M65.90 308.43 h4.60 M401.70 308.43 h-4.60 M65.90 285.20 h4.60 M401.70 285.20 h-4.60 M65.90 261.97 h4.60 M401.70 261.97 h-4.60 M65.90 238.73 h9.20 M401.70 238.73 h-9.20 M65.90 215.50 h4.60 M401.70 215.50 h-4.60 M65.90 192.27 h4.60 M401.70 192.27 h-4.60 M65.90 169.03 h4.60 M401.70 169.03 h-4.60 M65.90 145.80 h4.60 M401.70 145.80 h-4.60 M65.90 122.57 h9.20 M401.70 122.57 h-9.20 M65.90 99.33 h4.60 M401.70 99.33 h-4.60 M65.90 76.10 h4.60 M401.70 76.10 h-4.60 M65.90 52.87 h4.60 M401.70 52.87 h-4.60 M65.90 29.63 h4.60 M401.70 29.63 h-4.60 M65.90 6.40 h9.20 M401.70 6.40 h-9.20" stroke="#000" stroke-width="1.5" fill="none"/>
<text transform="translate(57.40,10.95) scale(1.07,1)" font-family="Liberation Sans, sans-serif" font-size="15.2" text-anchor="end" fill="#000" stroke="#000" stroke-width="0.35" >0.3</text>
<text transform="translate(57.40,127.53) scale(1.07,1)" font-family="Liberation Sans, sans-serif" font-size="15.2" text-anchor="end" fill="#000" stroke="#000" stroke-width="0.35" >0.2</text>
<text transform="translate(57.40,360.00) scale(1.07,1)" font-family="Liberation Sans, sans-serif" font-size="15.2" text-anchor="end" fill="#000" stroke="#000" stroke-width="0.35" >0</text>
<text transform="translate(56.00,243.42) scale(1.13,1)" font-family="Liberation Serif, serif" font-size="15.3" text-anchor="end" fill="#000" stroke="#000" stroke-width="0.5" >0.1</text>
<text transform="translate(65.50,374.00) scale(1.09,1)" font-family="Liberation Sans, sans-serif" font-size="15.4" text-anchor="middle" fill="#000" stroke="#000" stroke-width="0.35" >0</text>
<text transform="translate(177.43,374.00) scale(1.09,1)" font-family="Liberation Sans, sans-serif" font-size="15.4" text-anchor="middle" fill="#000" stroke="#000" stroke-width="0.35" >50</text>
<text transform="translate(289.97,373.10) scale(1.13,1)" font-family="Liberation Serif, serif" font-size="15.3" text-anchor="middle" fill="#000" stroke="#000" stroke-width="0.5" >100</text>
<text transform="translate(401.90,373.10) scale(1.13,1)" font-family="Liberation Serif, serif" font-size="15.3" text-anchor="middle" fill="#000" stroke="#000" stroke-width="0.5" >150</text>
<text transform="translate(217.40,396.60) scale(1.22,1)" font-family="Liberation Serif, serif" font-size="16.6" text-anchor="start" fill="#000" stroke="#000" stroke-width="0.15" >r</text>
<path d="M226.4 399.6 L233.6 385.0" stroke="#000" stroke-width="1.15" fill="none"/>
<text transform="translate(234.80,396.60) scale(1.08,1)" font-family="Liberation Serif, serif" font-size="13.6" text-anchor="start" fill="#000" stroke="#000" stroke-width="0.3" >R</text>
<text transform="translate(244.60,401.60) scale(0.95,1)" font-family="Liberation Serif, serif" font-size="11.3" text-anchor="start" fill="#000" stroke="#000" stroke-width="0.35" >0</text>
<g transform="translate(14.0,205.6) rotate(-90)"><text transform="translate(-0.30,0.00) scale(0.88,1)" font-family="Liberation Serif, serif" font-size="16" text-anchor="start" fill="#000" stroke="#000" stroke-width="0.3" >u</text><path d="M7.0 2.4 L18.6 -11.7" stroke="#000" stroke-width="1.15" fill="none"/><text transform="translate(18.20,0.00) scale(0.94,1)" font-family="Liberation Serif, serif" font-size="16" text-anchor="start" fill="#000" stroke="#000" stroke-width="0.3" >v</text><text transform="translate(27.30,4.90) scale(1.17,1)" font-family="Liberation Serif, serif" font-size="9.6" text-anchor="start" fill="#000" font-weight="bold">esc,0</text></g>
</svg>
</body></html>
